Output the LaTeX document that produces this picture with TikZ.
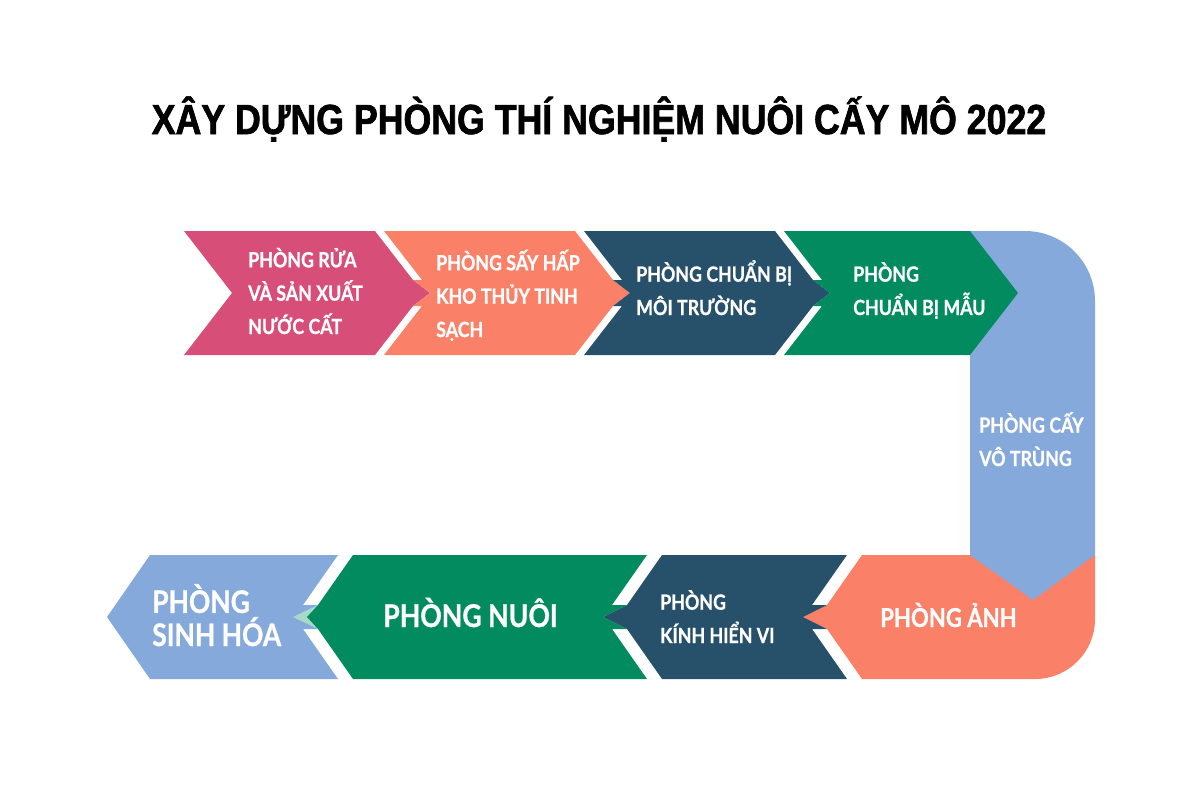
\documentclass[tikz,border=0pt]{standalone}
\usepackage{fontspec}
\setmainfont{Lato}
\newfontfamily\roomfont[FakeStretch=0.85,FakeBold=0.8]{Lato Bold}
\newfontfamily\titlefont[FakeStretch=0.85,FakeBold=1.6]{Liberation Sans Bold}
\definecolor{roomPink}{HTML}{D74F79}
\definecolor{roomSalmon}{HTML}{FA8068}
\definecolor{roomNavy}{HTML}{27506B}
\definecolor{roomGreen}{HTML}{028B5F}
\definecolor{roomSky}{HTML}{86A9DB}
\definecolor{roomMint}{HTML}{A6DBC8}
\tikzset{
  room/.style={anchor=base west, inner sep=0pt, align=left, text=white,
    font=\roomfont\fontsize{15.7}{25}\selectfont},
  bigroom/.style={room, font=\roomfont\fontsize{19.5}{26}\selectfont},
  hugeroom/.style={room, font=\roomfont\fontsize{23.3}{24.8}\selectfont},
}
\begin{document}
\begin{tikzpicture}[x=0.75pt,y=0.75pt,yscale=-1,xscale=1]
	\path[use as bounding box] (0,0) rectangle (1199,800);

	%Shape: Corner [id:photo]
	\fill[roomSalmon] (862,555) -- (1095,555) -- (1095,619) arc[start angle=0, end angle=90, radius=60] -- (862,679) -- (827,629) -- (803,617) -- (827,605) -- cycle;
	%Shape: Corner [id:sterile]
	\fill[roomSky] (970,231) -- (1025,231) arc[start angle=-90, end angle=0, radius=70] -- (1095,555) -- (1033,600) -- (970,555) -- cycle;

	%Shape: Chevron [id:wash]
	\fill[roomPink] (184,231) -- (375,231) -- (413,280) -- (430,293) -- (413,306) -- (375,355) -- (184,355) -- (232,293) -- cycle;
	%Shape: Chevron [id:dry]
	\fill[roomSalmon] (384,231) -- (575,231) -- (613,280) -- (630,293) -- (613,306) -- (575,355) -- (384,355) -- (422,306) -- (413,306) -- (430,293) -- (413,280) -- (422,280) -- cycle;
	%Shape: Chevron [id:medium]
	\fill[roomNavy] (584,231) -- (775,231) -- (813,280) -- (830,293) -- (813,306) -- (775,355) -- (584,355) -- (622,306) -- (613,306) -- (630,293) -- (613,280) -- (622,280) -- cycle;
	%Shape: Chevron [id:sample]
	\fill[roomGreen] (784,231) -- (970,231) -- (1018,293) -- (970,355) -- (784,355) -- (822,306) -- (813,306) -- (830,293) -- (813,280) -- (822,280) -- cycle;

	%Shape: Chevron [id:micro]
	\fill[roomNavy] (662,555) -- (847,555) -- (812,605) -- (827,605) -- (803,617) -- (827,629) -- (812,629) -- (847,679) -- (662,679) -- (627,629) -- (603,617) -- (627,605) -- cycle;
	%Shape: Tip [id:growtip]
	\fill[roomMint] (318,605) -- (293,617) -- (318,629) -- cycle;
	%Shape: Chevron [id:grow]
	\fill[roomGreen] (353,555) -- (647,555) -- (612,605) -- (627,605) -- (603,617) -- (627,629) -- (612,629) -- (647,679) -- (353,679) -- (318,629) -- (307,617) -- (318,605) -- cycle;
	%Shape: Chevron [id:biochem]
	\fill[roomSky] (150,555) -- (338,555) -- (303,605) -- (318,605) -- (293,617) -- (318,629) -- (303,629) -- (338,679) -- (150,679) -- (107,617) -- cycle;

	% Text Node
	\node (title) [anchor=base, inner sep=0pt, font=\titlefont\fontsize{31.5}{36}\selectfont] at (599,134) {XÂY DỰNG PHÒNG THÍ NGHIỆM NUÔI CẤY MÔ 2022};
	% Text Node
	\node (washText) [room] at (248,334) {PHÒNG RỬA\\VÀ SẢN XUẤT\\NƯỚC CẤT};
	% Text Node
	\node (dryText) [room] at (436,337) {PHÒNG SẤY HẤP\\KHO THỦY TINH\\SẠCH};
	% Text Node
	\node (mediumText) [room] at (636,315) {PHÒNG CHUẨN BỊ\\MÔI TRƯỜNG};
	% Text Node
	\node (sampleText) [room] at (853,315) {PHÒNG\\CHUẨN BỊ MẪU};
	% Text Node
	\node (sterileText) [room] at (979,466) {PHÒNG CẤY\\VÔ TRÙNG};
	% Text Node
	\node (photoText) [bigroom] at (880,627) {PHÒNG ẢNH};
	% Text Node
	\node (microText) [room] at (660,643) {PHÒNG\\KÍNH HIỂN VI};
	% Text Node
	\node (growText) [room, font=\roomfont\fontsize{23.5}{26}\selectfont] at (383,627) {PHÒNG NUÔI};
	% Text Node
	\node (biochemText) [hugeroom] at (152,646) {PHÒNG\\SINH HÓA};
\end{tikzpicture}
\end{document}
